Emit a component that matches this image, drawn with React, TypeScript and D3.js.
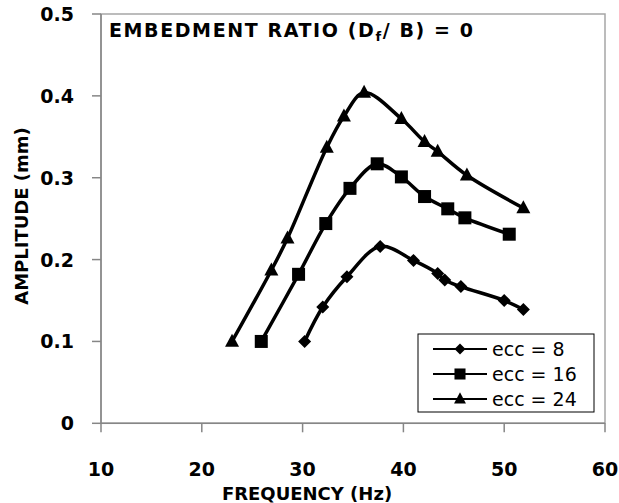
import React from "react";
import * as d3 from "d3";

const xTicks = [10, 20, 30, 40, 50, 60];
const yTicks = [0, 0.1, 0.2, 0.3, 0.4, 0.5];
const yTickLabels = ["0", "0.1", "0.2", "0.3", "0.4", "0.5"];

const ecc8: [number, number][] = [
  [30.2, 0.1], [32.0, 0.142], [34.4, 0.179], [37.7, 0.216], [41.0, 0.199],
  [43.4, 0.183], [44.1, 0.175], [45.7, 0.167], [50.0, 0.15], [51.9, 0.139],
];
const ecc16: [number, number][] = [
  [25.9, 0.1], [29.6, 0.182], [32.3, 0.244], [34.7, 0.287], [37.4, 0.317],
  [39.8, 0.301], [42.1, 0.277], [44.4, 0.262], [46.1, 0.251], [50.5, 0.231],
];
const ecc24: [number, number][] = [
  [23.0, 0.1], [26.9, 0.187], [28.5, 0.226], [32.4, 0.337], [34.1, 0.375],
  [36.1, 0.404], [39.8, 0.372], [42.1, 0.344], [43.4, 0.332], [46.3, 0.303],
  [51.9, 0.263],
];
const seriesNames = ["ecc = 8", "ecc = 16", "ecc = 24"];
const seriesData = [ecc8, ecc16, ecc24];
const seriesMarkers = ["diamond", "square", "triangle"];

const FONT = "'DejaVu Sans', Verdana, sans-serif";

function Marker({ type, x, y, scale = 1 }: { type: string; x: number; y: number; scale?: number }) {
  if (type === "diamond") {
    const r = 6.5 * scale;
    return <path d={`M${x},${y - r}L${x + r},${y}L${x},${y + r}L${x - r},${y}Z`} fill="#000" />;
  }
  if (type === "square") {
    const s = 13 * scale;
    return <rect x={x - s / 2} y={y - s / 2} width={s} height={s} fill="#000" />;
  }
  const w = 14 * scale;
  const h = 13 * scale;
  return <path d={`M${x},${y - h * 0.6}L${x + w / 2},${y + h * 0.4}L${x - w / 2},${y + h * 0.4}Z`} fill="#000" />;
}

export default function App() {
  const x = d3.scaleLinear().domain([10, 60]).range([101, 605]);
  const y = d3.scaleLinear().domain([0, 0.5]).range([423.3, 14]);
  const line = d3
    .line<[number, number]>()
    .x((d) => x(d[0]))
    .y((d) => y(d[1]))
    .curve(d3.curveCatmullRom.alpha(0.5));

  const legendRows = [349, 374, 399];

  return (
    <svg
      width={619}
      height={503}
      style={{ position: "absolute", left: 0, top: 0, background: "#fff" }}
      fontFamily={FONT}
    >
      {/* plot area border */}
      <rect x={x(10)} y={y(0.5)} width={x(60) - x(10)} height={y(0) - y(0.5)} fill="none" stroke="#a6a6a6" strokeWidth={1.5} />
      {/* axes */}
      <line x1={x(10)} x2={x(60)} y1={y(0)} y2={y(0)} stroke="#868686" strokeWidth={1.5} />
      <line x1={x(10)} x2={x(10)} y1={y(0)} y2={y(0.5)} stroke="#868686" strokeWidth={1.5} />
      {xTicks.map((t) => (
        <g key={"xt" + t}>
          <line x1={x(t)} x2={x(t)} y1={y(0)} y2={y(0) + 9} stroke="#868686" strokeWidth={1.5} />
          <text x={x(t)} y={476} textAnchor="middle" fontSize={19} fontWeight="bold" fill="#000">
            {t}
          </text>
        </g>
      ))}
      {yTicks.map((t, i) => (
        <g key={"yt" + t}>
          <line x1={x(10) - 9} x2={x(10)} y1={y(t)} y2={y(t)} stroke="#868686" strokeWidth={1.5} />
          <text x={74} y={y(t) + 7} textAnchor="end" fontSize={19} fontWeight="bold" fill="#000">
            {yTickLabels[i]}
          </text>
        </g>
      ))}
      {/* axis titles */}
      <text x={307} y={500} textAnchor="middle" fontSize={18} fontWeight="bold" fill="#000">
        FREQUENCY (Hz)
      </text>
      <text
        transform={`translate(28,${216}) rotate(-90)`}
        textAnchor="middle"
        fontSize={18}
        fontWeight="bold"
        fill="#000"
      >
        AMPLITUDE (mm)
      </text>
      {/* chart title */}
      <text x={109} y={37.3} fontSize={19} fontWeight="bold" fill="#000" letterSpacing={1.6}>
        EMBEDMENT RATIO (D
        <tspan fontSize={13} dy={4}>f</tspan>
        <tspan dy={-4}>/ B) = 0</tspan>
      </text>
      {/* series */}
      {seriesData.map((data, si) => (
        <g key={"s" + si}>
          <path d={line(data) || ""} fill="none" stroke="#000" strokeWidth={3.5} />
          {data.map((d, i) => (
            <Marker key={i} type={seriesMarkers[si]} x={x(d[0])} y={y(d[1])} />
          ))}
        </g>
      ))}
      {/* legend */}
      <rect x={418} y={334} width={176} height={78} fill="#fff" stroke="#000" strokeWidth={1} />
      {seriesNames.map((name, i) => (
        <g key={"l" + i}>
          <line x1={433} x2={487} y1={legendRows[i]} y2={legendRows[i]} stroke="#000" strokeWidth={2} />
          <Marker type={seriesMarkers[i]} x={460} y={legendRows[i]} scale={0.85} />
          <text x={492} y={legendRows[i] + 7} fontSize={19} fill="#000">
            {name}
          </text>
        </g>
      ))}
    </svg>
  );
}
